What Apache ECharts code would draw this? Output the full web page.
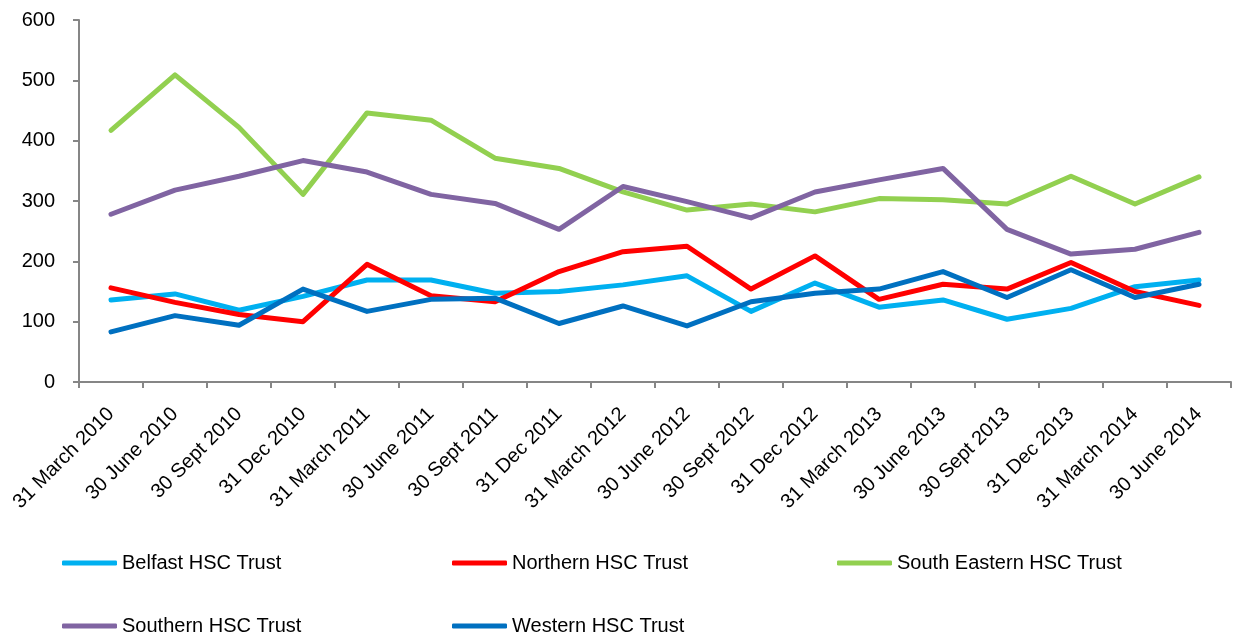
<!DOCTYPE html>
<html>
<head>
<meta charset="utf-8">
<script src="https://cdn.jsdelivr.net/npm/echarts@6/dist/echarts.min.js"></script>
<style>
html,body{margin:0;padding:0;background:#fff;}
#chart{width:1238px;height:636px;}
</style>
</head>
<body>
<div id="chart"></div>
<script>
const categories = ['31 March 2010','30 June 2010','30 Sept 2010','31 Dec 2010','31 March 2011','30 June 2011','30 Sept 2011','31 Dec 2011','31 March 2012','30 June 2012','30 Sept 2012','31 Dec 2012','31 March 2013','30 June 2013','30 Sept 2013','31 Dec 2013','31 March 2014','30 June 2014'];
const belfast = [136,146,119,142,169,169,147,150,161,176,117,164,124,136,104,122,158,169];
const northern = [156,132,112,100,195,143,133,183,216,225,154,209,137,162,154,198,150,127];
const southEastern = [417,509,422,311,446,434,371,354,315,285,295,282,304,302,295,341,295,340];
const southern = [278,318,341,367,348,311,296,253,324,299,272,315,335,354,253,212,220,248];
const western = [83,110,94,154,117,137,139,97,126,93,133,147,154,183,140,186,140,162];
const yTicks = [0,100,200,300,400,500,600];

const names = ['Belfast HSC Trust','Northern HSC Trust','South Eastern HSC Trust','Southern HSC Trust','Western HSC Trust'];
const values = [belfast, northern, southEastern, southern, western];
const colors = ['#00B0F0','#FF0000','#92D050','#8064A2','#0070C0'];
const legendPos = [[62,551],[452,551],[837,551],[62,614],[452,614]];
const font = '"Liberation Sans", Arial, sans-serif';

const chart = echarts.init(document.getElementById('chart'));
chart.setOption({
  animation: false,
  backgroundColor: '#fff',
  textStyle: {fontFamily: font},
  grid: {left: 79, right: 7, top: 20, bottom: 254, containLabel: false},
  legend: names.map((n, i) => ({
    data: [n],
    left: legendPos[i][0],
    top: legendPos[i][1],
    padding: 0,
    icon: 'roundRect',
    itemWidth: 55,
    itemHeight: 5,
    itemGap: 0,
    itemStyle: {borderWidth: 0},
    textStyle: {fontSize: 20, lineHeight: 24, color: '#000', fontFamily: font},
    selectedMode: false
  })),
  xAxis: {
    type: 'category',
    data: categories,
    boundaryGap: true,
    axisLine: {lineStyle: {color: '#868686', width: 2}},
    axisTick: {show: true, alignWithLabel: false, length: 6, lineStyle: {color: '#868686', width: 2}},
    axisLabel: {rotate: 45, fontSize: 20, color: '#000', margin: 29, interval: 0, fontFamily: font}
  },
  yAxis: {
    type: 'value',
    min: yTicks[0],
    max: yTicks[yTicks.length-1],
    interval: 100,
    axisLine: {show: true, lineStyle: {color: '#868686', width: 2}},
    axisTick: {show: true, length: 6, lineStyle: {color: '#868686', width: 2}},
    splitLine: {show: false},
    axisLabel: {fontSize: 20, color: '#000', margin: 24, fontFamily: font}
  },
  series: names.map((n, i) => ({
    name: n,
    type: 'line',
    data: values[i],
    symbol: 'none',
    color: colors[i],
    lineStyle: {width: 5, color: colors[i], cap: 'round', join: 'round'}
  }))
});
</script>
</body>
</html>
